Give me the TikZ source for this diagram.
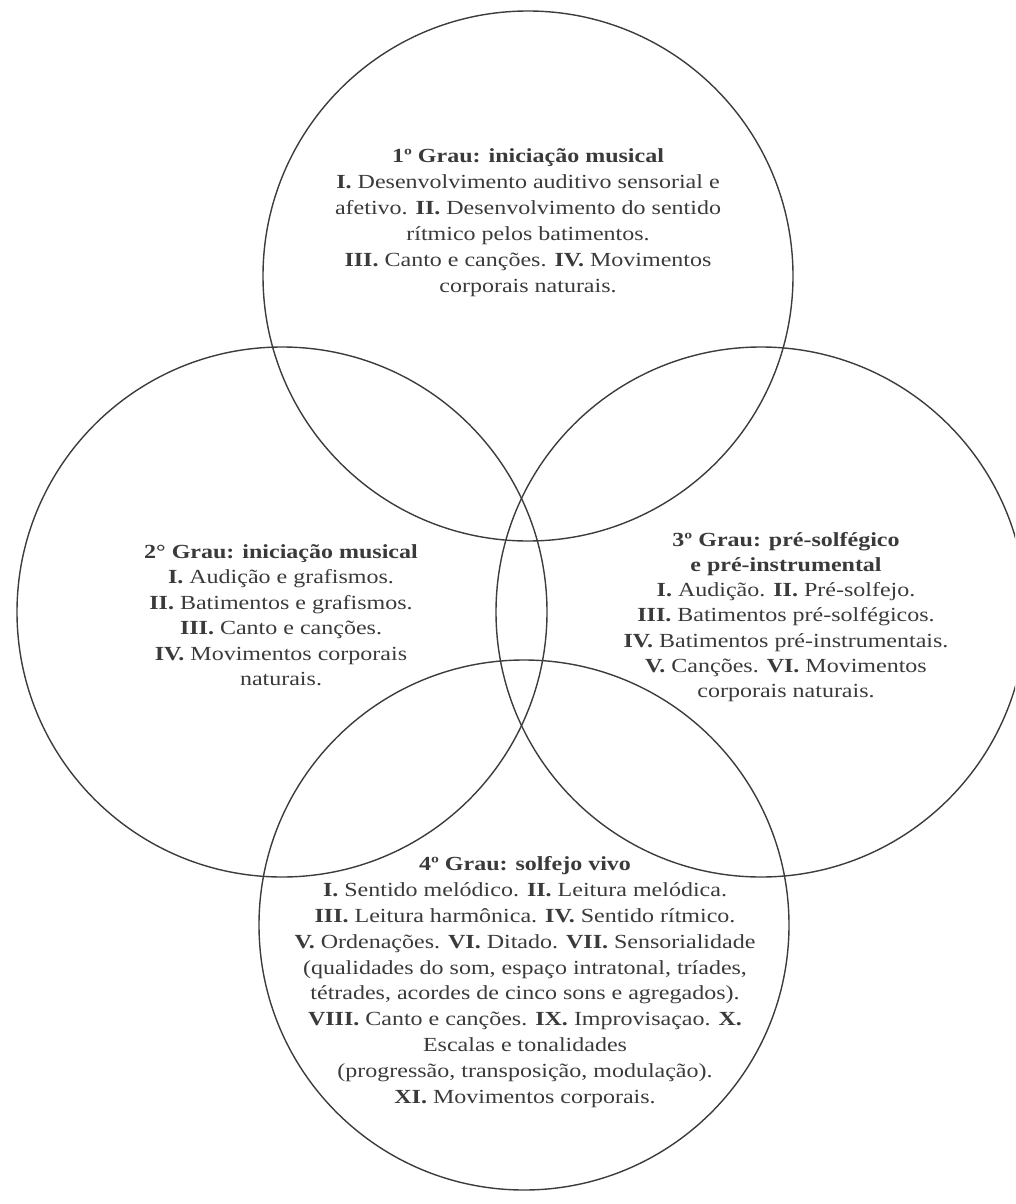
\documentclass[tikz,border=0pt]{standalone}
\usepackage{fontspec}
\setmainfont{Liberation Serif}[FakeStretch=1.2]
\definecolor{ringgray}{HTML}{3C3C3C}
\definecolor{txtgray}{HTML}{3A3A3A}
\begin{document}
\begin{tikzpicture}[x=1pt,y=-1pt,
  ring/.style={circle,draw=ringgray,line width=1.4pt,minimum size=530pt,inner sep=0pt},
  txt/.style={align=center,text=txtgray,inner sep=0pt,font=\fontsize{20}{25.5}\selectfont}]
\useasboundingbox (0,0) rectangle (1015,1204);
\clip (0,0) rectangle (1015,1204);
\node[ring] (c1) at (528,276) {};
\node[ring] (c2) at (282,612) {};
\node[ring] (c3) at (761,612) {};
\node[ring] (c4) at (524,925) {};
\node[txt,font=\fontsize{20}{26}\selectfont] (t1) at (528,223) {\textbf{1º Grau: iniciação musical}\\
\textbf{I.} Desenvolvimento auditivo sensorial e\\
afetivo. \textbf{II.} Desenvolvimento do sentido\\
rítmico pelos batimentos.\\
\textbf{III.} Canto e canções. \textbf{IV.} Movimentos\\
corporais naturais.};
\node[txt] (t2) at (281,615) {\textbf{2° Grau: iniciação musical}\\
\textbf{I.} Audição e grafismos.\\
\textbf{II.} Batimentos e grafismos.\\
\textbf{III.} Canto e canções.\\
\textbf{IV.} Movimentos corporais\\
naturais.};
\node[txt,font=\fontsize{20}{25.3}\selectfont] (t3) at (786,617) {\textbf{3º Grau: pré-solfégico}\\
\textbf{e pré-instrumental}\\
\textbf{I.} Audição. \textbf{II.} Pré-solfejo.\\
\textbf{III.} Batimentos pré-solfégicos.\\
\textbf{IV.} Batimentos pré-instrumentais.\\
\textbf{V.} Canções. \textbf{VI.} Movimentos\\
corporais naturais.};
\node[txt,font=\fontsize{20}{25.8}\selectfont] (t4) at (525,982) {\textbf{4º Grau: solfejo vivo}\\
\textbf{I.} Sentido melódico. \textbf{II.} Leitura melódica.\\
\textbf{III.} Leitura harmônica. \textbf{IV.} Sentido rítmico.\\
\textbf{V.} Ordenações. \textbf{VI.} Ditado. \textbf{VII.} Sensorialidade\\
(qualidades do som, espaço intratonal, tríades,\\
tétrades, acordes de cinco sons e agregados).\\
\textbf{VIII.} Canto e canções. \textbf{IX.} Improvisaçao. \textbf{X.}\\
Escalas e tonalidades\\
(progressão, transposição, modulação).\\
\textbf{XI.} Movimentos corporais.};
\end{tikzpicture}
\end{document}
